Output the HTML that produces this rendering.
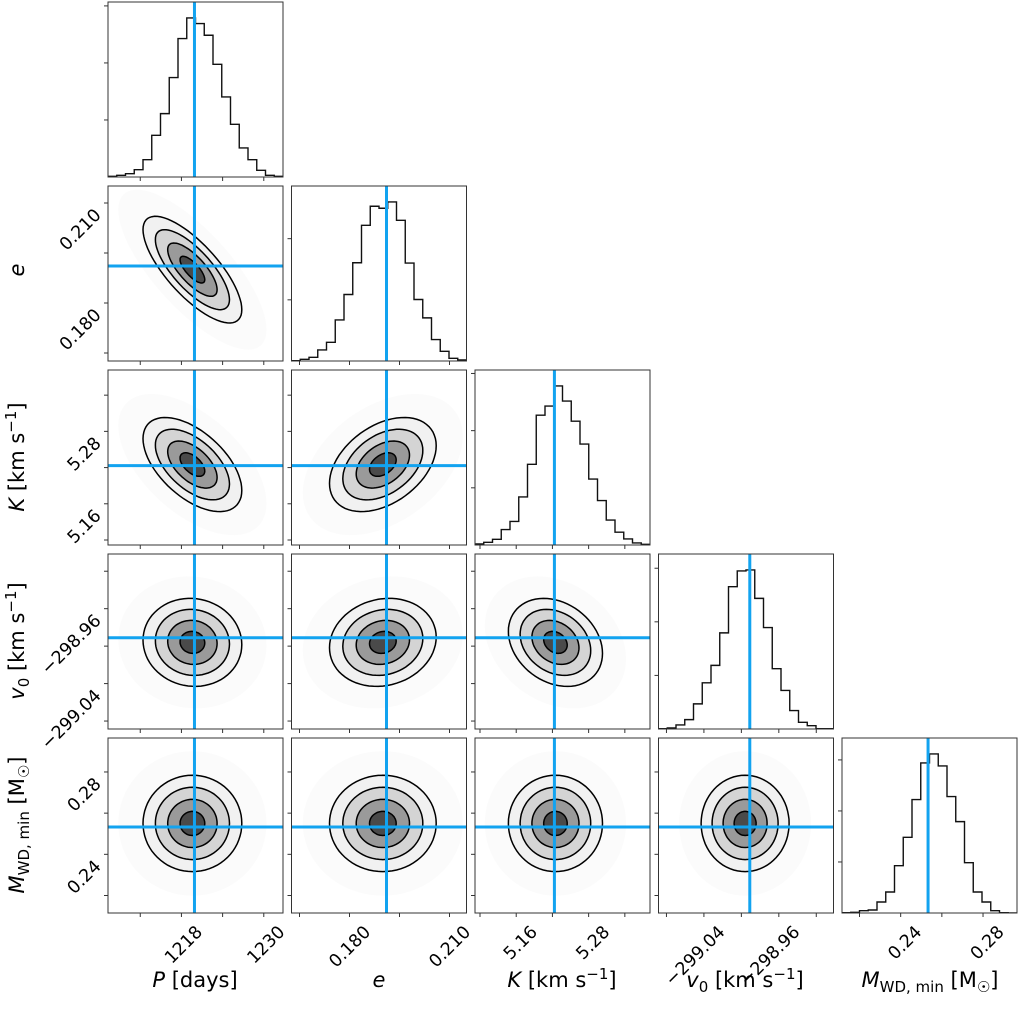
<!DOCTYPE html>
<html><head><meta charset="utf-8">
<style>
html,body{margin:0;padding:0;background:#fff;}
svg{display:block;font-family:"DejaVu Sans","Liberation Sans",sans-serif;}
</style></head>
<body>
<svg id="chart" width="1020" height="1021" viewBox="0 0 1020 1021" xmlns="http://www.w3.org/2000/svg"></svg>
<script>
// ---- data ----
const paramNames = ["P","e","K","v0","M"];
const axisLo = [1207.3, 0.1626, 5.0917, -299.0885, 0.2115];
const axisHi = [1232.8, 0.2151, 5.3817, -298.9016, 0.2965];
const truths = [1219.9, 0.1911, 5.2233, -298.991, 0.2533];
const means  = [1219.6, 0.1900, 5.2250, -298.996, 0.2550];
const sigmas = [3.6, 0.0080, 0.039, 0.0235, 0.0117];
// correlations for pairs (row,col)
const corrPairs = [[1,0,-0.75],[2,0,-0.55],[2,1,0.40],[3,0,-0.05],[3,1,0.12],[3,2,-0.25],[4,0,0.0],[4,1,0.0],[4,2,0.0],[4,3,0.0]];
const histP  = [2,5,10,22,52,125,190,298,415,477,460,425,338,240,158,87,52,20,5,2];
const histE  = [1,5,11,33,56,123,199,294,406,463,457,476,421,293,184,129,64,29,8,3];
const histK  = [3,8,17,46,70,143,240,386,413,473,428,368,300,196,132,74,38,18,6,2];
const histV0 = [1,3,12,28,75,138,190,287,425,472,475,390,303,180,115,55,20,10,1,1];
const histM  = [1,2,7,9,33,63,142,227,340,450,477,441,349,274,151,63,33,7,1,0];
const hists = [histP,histE,histK,histV0,histM];
const histTickStep = [171,183,170,160,153];
const tickVals = [[1212,1218,1224,1230],[0.165,0.180,0.195,0.210],[5.10,5.16,5.22,5.28,5.34],[-299.08,-299.04,-299.00,-298.96,-298.92],[0.22,0.24,0.26,0.28]];
const labelVals = [[1218,1230],[0.180,0.210],[5.16,5.28],[-299.04,-298.96],[0.24,0.28]];
const labelDigits = [0,3,2,2,2];
const contourLevels = [0.5,1.0,1.5,2.0];
const fillGrays = ["#f1f1f1","#d4d4d4","#9a9a9a","#4a4a4a"];

// ---- layout ----
const NS="http://www.w3.org/2000/svg";
const svg=document.getElementById('chart');
const PX0=108, PDX=183.5, PY0=2, PDY=184, PW=175, PH=175;
const BLUE="#12a3f0";
function mk(tag,attrs,parent){const e=document.createElementNS(NS,tag);for(const k in attrs)e.setAttribute(k,attrs[k]);(parent||svg).appendChild(e);return e;}
function xs(i,v){return PX0+i*PDX+(v-axisLo[i])/(axisHi[i]-axisLo[i])*PW;}
function ys(j,v){return PY0+j*PDY+PH-(v-axisLo[j])/(axisHi[j]-axisLo[j])*PH;}
function fmt(v,d){return v.toFixed(d).replace('-','−');}
function corr(r,c){for(const p of corrPairs){if(p[0]===r&&p[1]===c)return p[2];}return 0;}

const N=paramNames.length;
for(let r=0;r<N;r++){
  for(let c=0;c<=r;c++){
    const x0=PX0+c*PDX, y0=PY0+r*PDY;
    const g=mk('g',{});
    
    
    const cp=mk('clipPath',{id:'cp'+r+c},g);
    mk('rect',{x:x0,y:y0,width:PW,height:PH},cp);
    const inner=mk('g',{'clip-path':'url(#cp'+r+c+')'},g);
    if(r===c){
      const h=hists[r]; const mx=Math.max(...h)*1.1; const nb=h.length;
      let d='';
      for(let b=0;b<nb;b++){
        const xa=xs(c,axisLo[c]+(axisHi[c]-axisLo[c])*b/nb), xb=xs(c,axisLo[c]+(axisHi[c]-axisLo[c])*(b+1)/nb);
        const yy=y0+PH-h[b]/mx*PH;
        d+=(b===0?'M'+xa+','+(y0+PH):'')+' L'+xa+','+yy+' L'+xb+','+yy;
      }
      d+=' L'+(x0+PW)+','+(y0+PH);
      const hp=mk('path',{d:d,fill:'none',stroke:'#111','stroke-width':1.4},inner);
      
      
      for(let t=histTickStep[r];t<mx;t+=histTickStep[r]){
        const yy=y0+PH-t/mx*PH;
        mk('line',{x1:x0-4,x2:x0,y1:yy,y2:yy,stroke:'#333','stroke-width':1},g);
      }
      const tl=mk('line',{x1:xs(c,truths[c]),x2:xs(c,truths[c]),y1:y0,y2:y0+PH,stroke:BLUE,'stroke-width':3},inner);
      
      
    } else {
      const rho=corr(r,c);
      const cx=means[c], cy=means[r], sx=sigmas[c], sy=sigmas[r];
      function ell(k){
        let d='';
        for(let t=0;t<=72;t++){
          const a=t/72*2*Math.PI;
          const vx=cx+k*sx*Math.cos(a);
          const vy=cy+k*sy*(rho*Math.cos(a)+Math.sqrt(1-rho*rho)*Math.sin(a));
          d+=(t===0?'M':'L')+xs(c,vx).toFixed(1)+','+ys(r,vy).toFixed(1);
        }
        return d+'Z';
      }
      mk('path',{d:ell(3.0),fill:'#fbfbfb',stroke:'none'},inner);
      for(let i=0;i<contourLevels.length;i++){
        const k=contourLevels[contourLevels.length-1-i];
        mk('path',{d:ell(k),fill:fillGrays[i]},inner);
      }
      for(const k of contourLevels){
        const cl=mk('path',{d:ell(k),fill:'none',stroke:'#000','stroke-width':1.5},inner);
        
        
      }
      mk('line',{x1:xs(c,truths[c]),x2:xs(c,truths[c]),y1:y0,y2:y0+PH,stroke:BLUE,'stroke-width':3},inner);
      mk('line',{x1:x0,x2:x0+PW,y1:ys(r,truths[r]),y2:ys(r,truths[r]),stroke:BLUE,'stroke-width':3},inner);
      for(const v of tickVals[r]){const yy=ys(r,v);mk('line',{x1:x0-4,x2:x0,y1:yy,y2:yy,stroke:'#333','stroke-width':1},g);}
    }
    for(const v of tickVals[c]){const xx=xs(c,v);mk('line',{x1:xx,x2:xx,y1:y0+PH,y2:y0+PH+4,stroke:'#333','stroke-width':1},g);}
    mk('rect',{x:x0,y:y0,width:PW,height:PH,fill:'none',stroke:'#333','stroke-width':1},g);
  }
}
for(let c=0;c<N;c++){
  for(const v of labelVals[c]){
    const ax=xs(c,v)+22, ay=PY0+4*PDY+PH+20;
    const t=mk('text',{x:ax,y:ay,'font-size':17.5,'text-anchor':'end',transform:'rotate(-45 '+ax+' '+ay+')',fill:'#000'});
    t.textContent=fmt(v,labelDigits[c]);
    
    
  }
}
for(let r=1;r<N;r++){
  for(const v of labelVals[r]){
    const ax=PX0-6, ay=ys(r,v)+13;
    const t=mk('text',{x:ax,y:ay,'font-size':17.5,'text-anchor':'end',transform:'rotate(-45 '+ax+' '+ay+')',fill:'#000'});
    t.textContent=fmt(v,labelDigits[r]);
    
    
  }
}
</script>
<svg style="position:absolute;left:0;top:0" width="1020" height="1021" xmlns="http://www.w3.org/2000/svg" font-family="DejaVu Sans, Liberation Sans, sans-serif" font-size="21">
  <text x="195" y="987" text-anchor="middle"><tspan font-style="italic">P</tspan> [days]</text>
  <text x="379" y="987" text-anchor="middle" font-style="italic">e</text>
  <text x="562" y="987" text-anchor="middle"><tspan font-style="italic">K</tspan> [km s<tspan dy="-8" font-size="15">−1</tspan><tspan dy="8">]</tspan></text>
  <text x="745" y="987" text-anchor="middle"><tspan font-style="italic">v</tspan><tspan dy="5" font-size="15">0</tspan><tspan dy="-5"> [km s</tspan><tspan dy="-8" font-size="15">−1</tspan><tspan dy="8">]</tspan></text>
  <text x="930" y="987" text-anchor="middle"><tspan font-style="italic">M</tspan><tspan dy="5" font-size="15">WD, min</tspan><tspan dy="-5"> [M</tspan><tspan dy="5" font-size="15">☉</tspan><tspan dy="-5">]</tspan></text>
  <text transform="translate(24,270) rotate(-90)" text-anchor="middle" font-style="italic">e</text>
  <text transform="translate(24,457) rotate(-90)" text-anchor="middle"><tspan font-style="italic">K</tspan> [km s<tspan dy="-8" font-size="15">−1</tspan><tspan dy="8">]</tspan></text>
  <text transform="translate(24,641) rotate(-90)" text-anchor="middle"><tspan font-style="italic">v</tspan><tspan dy="5" font-size="15">0</tspan><tspan dy="-5"> [km s</tspan><tspan dy="-8" font-size="15">−1</tspan><tspan dy="8">]</tspan></text>
  <text transform="translate(24,825) rotate(-90)" text-anchor="middle"><tspan font-style="italic">M</tspan><tspan dy="5" font-size="15">WD, min</tspan><tspan dy="-5"> [M</tspan><tspan dy="5" font-size="15">☉</tspan><tspan dy="-5">]</tspan></text>
</svg>
</body></html>
